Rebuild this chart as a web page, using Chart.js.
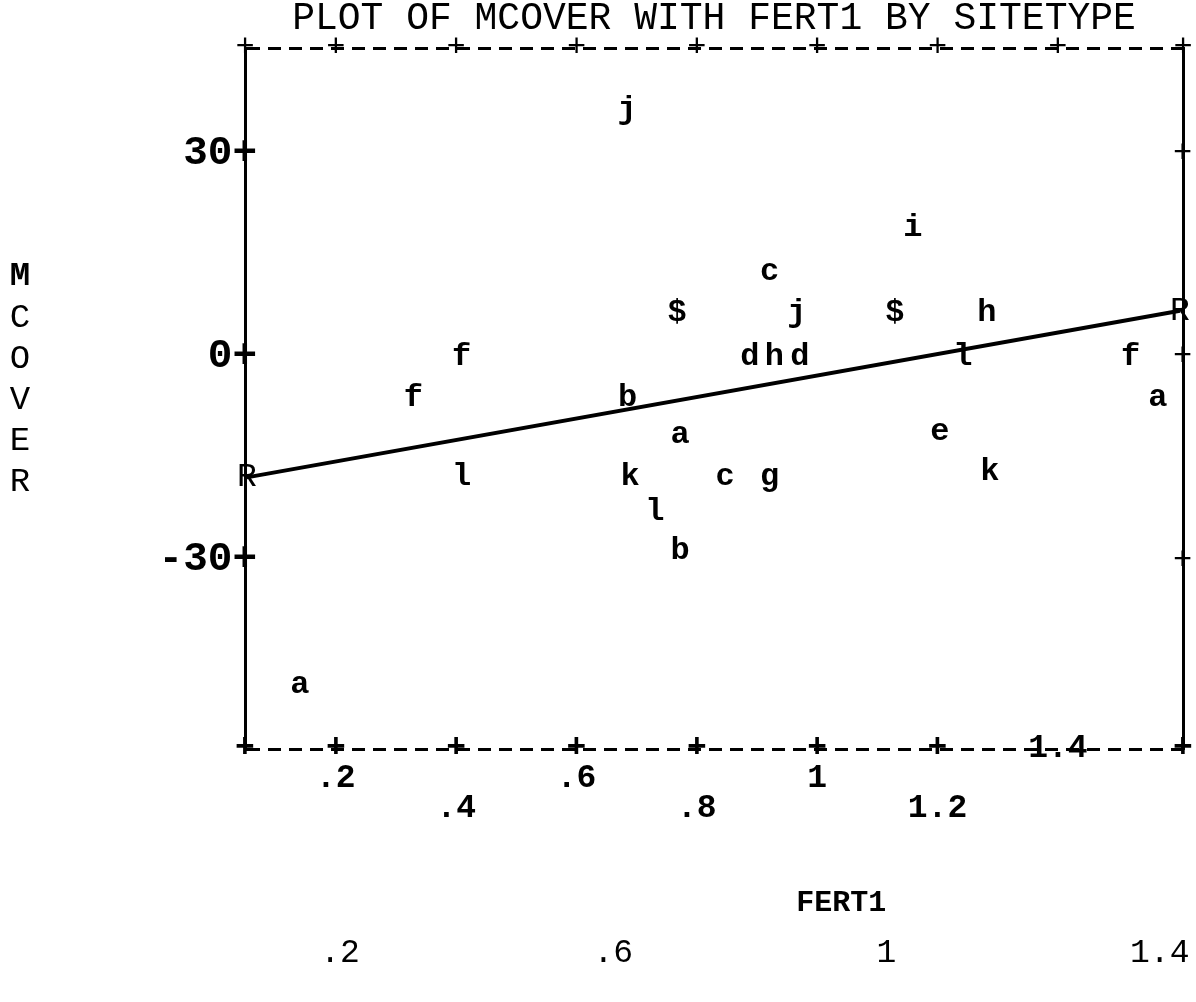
<!DOCTYPE html>
<html lang="en">
<head>
  <meta charset="UTF-8" />
  <title>Plot of MCOVER with FERT1 by SITETYPE</title>
  <script src="https://cdn.jsdelivr.net/npm/chart.js"></script>
  <style>
    body {
      margin: 0;
      background: #fff;
    }
    canvas {
      display: block;
    }
  </style>
</head>
<body>
  <canvas id="plot" width="1196" height="1002"></canvas>

  <script>
    // Points of the printer plot: letter = SITETYPE code
    const pointLabels = ['j', 'i', 'c', '$', 'j', '$', 'h', 'f', 'd', 'h', 'd', 'l', 'f',
                         'f', 'b', 'a', 'a', 'e', 'l', 'k', 'c', 'g', 'k', 'l', 'b', 'a'];
    const fertValues = [0.684, 1.159, 0.921, 0.767, 0.966, 1.129, 1.282, 0.409, 0.888, 0.929, 0.971, 1.242, 1.521,
                        0.329, 0.685, 1.566, 0.772, 1.204, 0.409, 0.689, 0.847, 0.921, 1.287, 0.730, 0.772, 0.140];
    const mcoverValues = [36.4, 19.0, 12.5, 6.5, 6.5, 6.5, 6.5, 0, 0, 0, 0, 0, 0,
                          -6.0, -6.0, -6.0, -11.6, -11.1, -17.8, -17.8, -17.8, -17.8, -17.0, -22.9, -28.7, -48.4];

    // Regression line (marked R at both ends)
    const lineFert = [0.052, 1.603];
    const lineMcover = [-17.8, 6.8];

    // Axes
    const xMin = 0.049, xMax = 1.608;
    const yMin = -57.9, yMax = 45.6;
    const yTicks = [-30, 0, 30];
    const yTickText = ['-30+', '  0+', ' 30+'];
    const xTicks = [0.2, 0.4, 0.6, 0.8, 1.0, 1.2, 1.4];
    const xTickText = [['+', '.2'], ['+', '', '.4'], ['+', '.6'], ['+', '', '.8'], ['+', '1'], ['+', '', '1.2'], ['1.4']];
    const lowTicks = [0.2, 0.6, 1.0, 1.4];
    const lowTickText = ['.2', '.6', '1', '1.4'];
    const lowMin = 0.061, lowMax = 1.434;

    const mono = '"Liberation Mono", "DejaVu Sans Mono", monospace';

    const scatterData = fertValues.map((x, i) => ({ x: x, y: mcoverValues[i] }));
    const lineData = lineFert.map((x, i) => ({ x: x, y: lineMcover[i] }));

    // tick labels here sit on the frame line, so don't clip them to the scale box
    function noLabelClip(s) {
      s._computeLabelArea = () => null;
    }

    // draws the plot letters and the stacked axis titles
    const printPlugin = {
      id: 'printText',
      afterDatasetsDraw(chart) {
        const ctx = chart.ctx;
        const area = chart.chartArea;
        const ys = chart.scales.y;
        ctx.save();
        ctx.fillStyle = '#000';
        ctx.textAlign = 'center';
        ctx.textBaseline = 'middle';
        ctx.font = 'bold 32px ' + mono;
        chart.getDatasetMeta(0).data.forEach((pt, i) => {
          ctx.fillText(pointLabels[i], pt.x, pt.y);
        });
        ctx.font = '33px ' + mono;
        chart.getDatasetMeta(1).data.forEach(pt => {
          ctx.fillText('R', pt.x, pt.y);
        });
        // y title, one letter per line
        'MCOVER'.split('').forEach((ch, i) => {
          ctx.font = (i === 0 ? 'bold ' : '') + '34px ' + mono;
          ctx.fillText(ch, 20, ys.getPixelForValue(0) - 80 + i * 41);
        });
        // x title
        ctx.font = 'bold 30px ' + mono;
        ctx.fillText('FERT1', chart.scales.x.getPixelForValue(1.04), area.bottom + 154);
        ctx.restore();
      }
    };

    const plusFont = { family: mono, size: 32, lineHeight: '30px' };

    new Chart(document.getElementById('plot'), {
      type: 'scatter',
      data: {
        datasets: [
          { data: scatterData, pointRadius: 0, pointHoverRadius: 0 },
          { data: lineData, showLine: true, borderColor: '#000', borderWidth: 4, pointRadius: 0 }
        ]
      },
      options: {
        responsive: false,
        animation: false,
        layout: { padding: { top: 0, right: 13, bottom: 0, left: 0 } },
        plugins: {
          legend: { display: false },
          tooltip: { enabled: false },
          title: {
            display: true,
            text: 'PLOT OF MCOVER WITH FERT1 BY SITETYPE',
            fullSize: false,
            align: 'center',
            color: '#000',
            padding: { top: 3, bottom: 13 },
            font: { family: mono, size: 38, weight: 'normal', lineHeight: '32px' }
          }
        },
        scales: {
          x: {
            type: 'linear',
            position: 'bottom',
            weight: 0,
            min: xMin,
            max: xMax,
            afterBuildTicks: s => { s.ticks = [xMin].concat(xTicks, [xMax]).map(v => ({ value: v })); },
            afterFit: s => { s.height = 169; s.paddingLeft = 0; s.paddingRight = 0; noLabelClip(s); },
            grid: { drawOnChartArea: false, drawTicks: false },
            border: { display: false },
            ticks: {
              autoSkip: false,
              maxRotation: 0,
              minRotation: 0,
              padding: -15,
              color: '#000',
              font: { family: mono, size: 33, weight: 'bold', lineHeight: '30px' },
              callback: (v, i) => {
                if (i === 0 || i === xTicks.length + 1) return '+';
                return xTickText[i - 1];
              }
            }
          },
          x2: {
            type: 'linear',
            position: 'bottom',
            weight: 1,
            min: lowMin,
            max: lowMax,
            afterBuildTicks: s => { s.ticks = lowTicks.map(v => ({ value: v })); },
            afterFit: s => { s.height = 84; s.paddingLeft = 0; s.paddingRight = 0; noLabelClip(s); },
            grid: { display: false, drawTicks: false },
            border: { display: false },
            ticks: {
              autoSkip: false,
              maxRotation: 0,
              padding: 20,
              color: '#000',
              font: { family: mono, size: 33, lineHeight: '30px' },
              callback: (v, i) => lowTickText[i]
            }
          },
          xTop: {
            type: 'linear',
            position: 'top',
            weight: 0,
            min: xMin,
            max: xMax,
            afterBuildTicks: s => { s.ticks = [xMin].concat(xTicks, [xMax]).map(v => ({ value: v })); },
            afterFit: s => { s.height = 0; s.paddingLeft = 0; s.paddingRight = 0; noLabelClip(s); },
            grid: { drawOnChartArea: false, drawTicks: false },
            border: { display: false },
            ticks: {
              autoSkip: false,
              maxRotation: 0,
              padding: -15,
              color: '#000',
              font: plusFont,
              callback: () => '+'
            }
          },
          y: {
            type: 'linear',
            position: 'left',
            min: yMin,
            max: yMax,
            // frame top and bottom are this axis' dashed grid lines at min and max
            afterBuildTicks: s => { s.ticks = [yMin].concat(yTicks, [yMax]).map(v => ({ value: v })); },
            afterFit: s => { s.width = 245; s.paddingTop = 0; s.paddingBottom = 0; noLabelClip(s); },
            grid: {
              drawTicks: false,
              lineWidth: 3,
              color: c => (c.tick && (c.tick.value === yMin || c.tick.value === yMax)) ? '#000' : 'rgba(0,0,0,0)'
            },
            border: { display: true, color: '#000', width: 3, dash: [13, 8] },
            ticks: {
              padding: -12,
              color: '#000',
              font: { family: mono, size: 41, weight: 'bold', lineHeight: '36px' },
              callback: (v, i) => (i === 0 || i === yTicks.length + 1) ? '' : yTickText[i - 1]
            }
          },
          yRight: {
            type: 'linear',
            position: 'right',
            min: yMin,
            max: yMax,
            afterBuildTicks: s => { s.ticks = yTicks.map(v => ({ value: v })); },
            afterFit: s => { s.width = 0; s.paddingTop = 0; s.paddingBottom = 0; noLabelClip(s); },
            grid: { drawOnChartArea: false, drawTicks: false },
            border: { display: true, color: '#000', width: 3 },
            ticks: {
              padding: -10,
              color: '#000',
              font: plusFont,
              callback: () => '+'
            }
          }
        }
      },
      plugins: [printPlugin]
    });
  </script>
</body>
</html>
